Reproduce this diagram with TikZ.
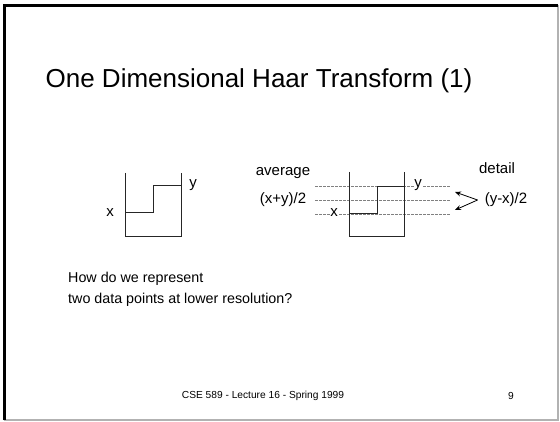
\documentclass[tikz,border=0pt]{standalone}
\usepackage{fontspec}
\setmainfont{Liberation Sans}
\usetikzlibrary{positioning,arrows.meta}
\tikzset{
	lbl/.style={inner sep=1pt, font=\fontsize{15}{17}\selectfont},
	sig/.style={line width=1pt, black!85},
	lvl/.style={dash pattern=on 2.5pt off 1.5pt, gray, line width=0.8pt}
}
\begin{document}
\begin{tikzpicture}[>={Stealth[length=6pt,width=5pt]}, x=1pt, y=-1pt]
	\useasboundingbox (0,0) rectangle (560,422);
	\fill[white] (0,0) rectangle (560,422);
	% Rahmen der Folie
	\draw[gray!60, line width=1.2pt] (558,5) -- (558,420) -- (4,420);
	\draw[black, line width=2.2pt] (4.5,420) -- (4.5,5.5) -- (558,5.5);
	\node[font=\fontsize{26}{30}\selectfont] (title) at (259,81) {One Dimensional Haar Transform (1)};
	% linkes Signal
	\draw[sig] (125,173) -- (125,237) -- (181,237) -- (181,173);
	\draw[sig] (125,213) -- (153,213) -- (153,186) -- (181,186);
	\node[lbl] (xl) at (110,213) {x};
	\node[lbl] (yl) at (193,185) {y};
	% rechtes Signal mit Mittelwert
	\foreach \h in {186.5,200,214} \draw[lvl] (315,\h) -- (450,\h);
	\draw[sig] (349,172) -- (349,237) -- (404,237) -- (404,172);
	\draw[sig] (349,214) -- (377,214) -- (377,186.5) -- (404,186.5);
	\node[lbl, fill=white, inner sep=0.5pt] (xr) at (334,213) {x};
	\node[lbl, fill=white, inner sep=0.5pt] (yr) at (418,185) {y};
	\node[lbl] (avg) at (283,173) {average};
	\node[lbl] (avgval) at (283,200) {(x+y)/2};
	\node[lbl] (det) at (497,168) {detail};
	\node[lbl] (detval) at (506,200) {(y-x)/2};
	\coordinate (up) at (455,192);
	\coordinate (dn) at (455,210);
	\draw[->, line width=0.8pt] ([xshift=-6pt]detval.west) -- (up);
	\draw[->, line width=0.8pt] ([xshift=-6pt]detval.west) -- (dn);
	\node[lbl, font=\fontsize{14.3}{20.5}\selectfont, align=left, anchor=north west, inner sep=0pt] (quest) at (68,272) {How do we represent\\two data points at lower resolution?};
	\node[font=\fontsize{10.2}{12}\selectfont] (foot) at (263,396) {CSE 589 - Lecture 16 - Spring 1999};
	\node[font=\fontsize{10.2}{12}\selectfont] (page) at (511,396) {9};
\end{tikzpicture}
\end{document}
